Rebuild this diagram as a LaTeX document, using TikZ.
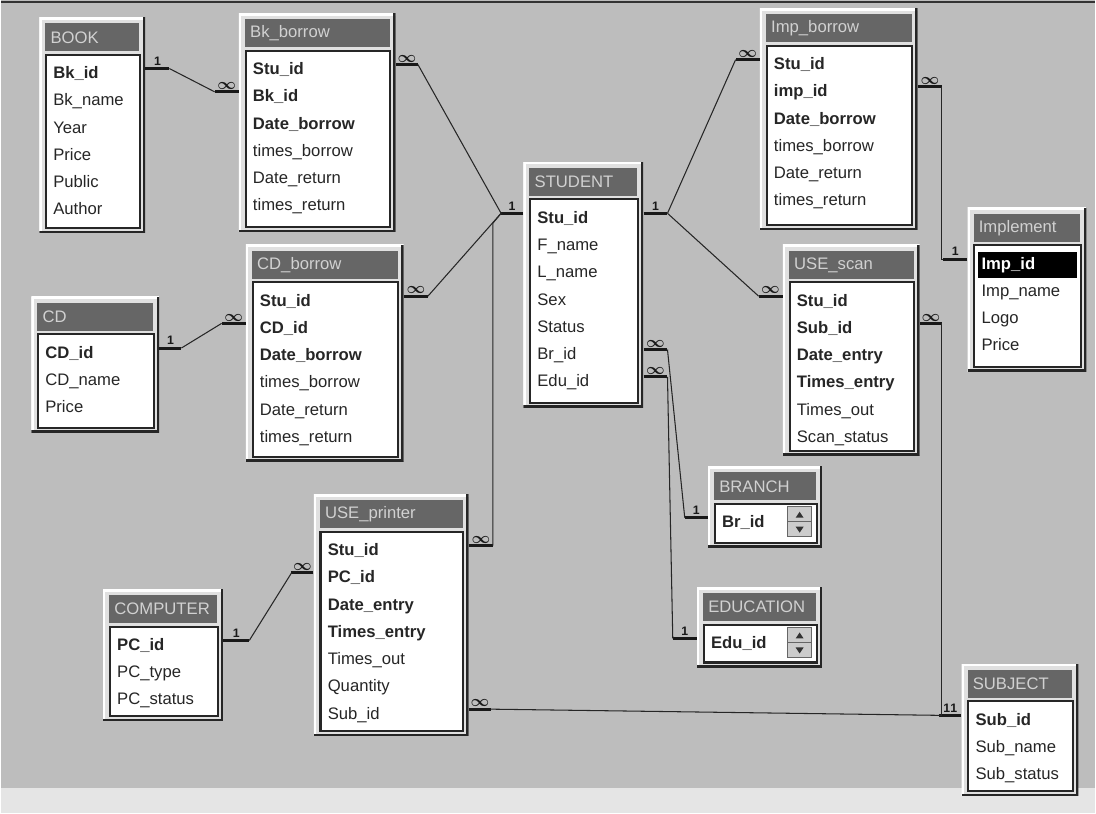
\documentclass[tikz,border=0pt]{standalone}
\usepackage{fontspec}
\setsansfont{Liberation Sans}
\usetikzlibrary{calc,positioning}
\newcommand\pxu{0.02cm}
\newcommand\fldfont{\sffamily\fontsize{9.5}{11}\selectfont}

\begin{document}
\begin{tikzpicture}[
    x=0.02cm, y=-0.02cm,
    tblframe/.style={rectangle,fill=black!12,inner sep=0pt,anchor=north west,
        path picture={
            \draw[white,line width=2.6pt] (path picture bounding box.south west) |- (path picture bounding box.north east);
            \draw[black!85,line width=2.6pt] (path picture bounding box.north east) |- (path picture bounding box.south west);
        }},
    tbltitle/.style={rectangle,fill=black!60,text=black!18,font=\fldfont,anchor=north west,inner xsep=3pt,inner ysep=0pt},
    tblbody/.style={rectangle,fill=white,draw=black!85,line width=1.2pt,anchor=north west,inner sep=0pt},
    fieldtxt/.style={anchor=base west,inner sep=0pt,font=\fldfont,text=black!85},
    keytxt/.style={fieldtxt,font=\fldfont\bfseries},
    hltxt/.style={keytxt,fill=black,text=white,xshift=-0.08cm,inner xsep=0.08cm,inner ysep=3pt,text width=1.84cm},
    relline/.style={black!85,line width=0.6pt},
    relstub/.style={black!90,line width=1.7pt},
    cardone/.style={above,inner sep=1pt,font=\sffamily\bfseries\scriptsize},
    cardmany/.style={above,inner sep=0.5pt,font=\bfseries\boldmath\small}
]
    % Background
    \fill[black!26] (0,0) rectangle (1096,815);
    \fill[black!10] (0,790) rectangle (1096,815);
    \draw[black!80,line width=1.2pt] (0,2) -- (1096,2);
    \useasboundingbox (0,0) rectangle (1096,815);

    % Tables: name/x/y/width/height/title/fields
    \foreach \tb/\x/\y/\w/\h/\ttl/\flds in {
        book/38/17/106/216/BOOK/{keytxt/Bk\_id,fieldtxt/Bk\_name,fieldtxt/Year,fieldtxt/Price,fieldtxt/Public,fieldtxt/Author},
        bkb/238/13/157/219/Bk\_borrow/{keytxt/Stu\_id,keytxt/Bk\_id,keytxt/Date\_borrow,fieldtxt/times\_borrow,fieldtxt/Date\_return,fieldtxt/times\_return},
        impb/760/8/158/222/Imp\_borrow/{keytxt/Stu\_id,keytxt/imp\_id,keytxt/Date\_borrow,fieldtxt/times\_borrow,fieldtxt/Date\_return,fieldtxt/times\_return},
        impl/968/208/119/164/Implement/{hltxt/Imp\_id,fieldtxt/Imp\_name,fieldtxt/Logo,fieldtxt/Price},
        stu/523/162/120/246/STUDENT/{keytxt/Stu\_id,fieldtxt/F\_name,fieldtxt/L\_name,fieldtxt/Sex,fieldtxt/Status,fieldtxt/Br\_id,fieldtxt/Edu\_id},
        uses/783/245/137/211/USE\_scan/{keytxt/Stu\_id,keytxt/Sub\_id,keytxt/Date\_entry,keytxt/Times\_entry,fieldtxt/Times\_out,fieldtxt/Scan\_status},
        cd/30/297/128/136/CD/{keytxt/CD\_id,fieldtxt/CD\_name,fieldtxt/Price},
        cdb/245/245/158/217/CD\_borrow/{keytxt/Stu\_id,keytxt/CD\_id,keytxt/Date\_borrow,fieldtxt/times\_borrow,fieldtxt/Date\_return,fieldtxt/times\_return},
        comp/102/590/120/132/COMPUTER/{keytxt/PC\_id,fieldtxt/PC\_type,fieldtxt/PC\_status},
        usep/313/495/155/242/USE\_printer/{keytxt/Stu\_id,keytxt/PC\_id,keytxt/Date\_entry,keytxt/Times\_entry,fieldtxt/Times\_out,fieldtxt/Quantity,fieldtxt/Sub\_id},
        br/708/467/114/81/BRANCH/{keytxt/Br\_id},
        edu/697/588/125/80/EDUCATION/{keytxt/Edu\_id},
        subj/962/665/117/132/SUBJECT/{keytxt/Sub\_id,fieldtxt/Sub\_name,fieldtxt/Sub\_status}%
    }{
        \node[tblframe,minimum width=\w*\pxu,minimum height=\h*\pxu] (\tb) at (\x,\y) {};
        \node[tbltitle,text width=\w*\pxu-12*\pxu-6pt,minimum height=28*\pxu] (\tb-t) at ($(\tb.north west)+(6,6)$) {\ttl};
        \node[tblbody,minimum width=\w*\pxu-12*\pxu,minimum height=\h*\pxu-42*\pxu] (\tb-b) at ($(\tb-t.south west)+(0,2)$) {};
        \foreach \sty/\fld [count=\i] in \flds
            \node[\sty] (\tb-\i) at ($(\tb-b.north west)+(8,25+27.3*\i-27.3)$) {\fld};
    }

    % Scroll buttons of the one-field lists
    \foreach \tb in {br,edu}{
        \draw[fill=black!20,draw=black!60] ($(\tb-b.north east)+(-30,4)$) rectangle ++(24,15);
        \draw[fill=black!20,draw=black!60] ($(\tb-b.north east)+(-30,19)$) rectangle ++(24,15);
        \fill[black!80] ($(\tb-b.north east)+(-22,15)$) -- ++(8,0) -- ++(-4,-6) -- cycle;
        \fill[black!80] ($(\tb-b.north east)+(-22,24)$) -- ++(8,0) -- ++(-4,6) -- cycle;
    }

    % BOOK -- Bk_borrow
    \draw[relstub] ($(book-1.base -| book.east)+(0,-10)$) -- node[cardone]{1} ++(24,0) coordinate (book-r1);
    \draw[relstub] ($(bkb-2.base -| bkb.west)+(0,-10)$) -- node[cardmany]{$\infty$} ++(-24,0) coordinate (bkb-l2);
    \draw[relline] (book-r1) -- (bkb-l2);

    % Bk_borrow, CD_borrow, USE_printer -- STUDENT
    \draw[relstub] ($(stu-1.base -| stu.west)+(0,-10)$) -- node[cardone]{1} ++(-22,0) coordinate (stu-l1);
    \draw[relstub] ($(bkb-1.base -| bkb.east)+(0,-10)$) -- node[cardmany]{$\infty$} ++(22,0) coordinate (bkb-r1);
    \draw[relline] (bkb-r1) -- (stu-l1);
    \draw[relstub] ($(cdb-1.base -| cdb.east)+(0,-10)$) -- node[cardmany]{$\infty$} ++(24,0) coordinate (cdb-r1);
    \draw[relline] (cdb-r1) -- (stu-l1);
    \draw[relstub] ($(usep-1.base -| usep.east)+(0,-10)$) -- node[cardmany]{$\infty$} ++(24,0) coordinate (usep-r1);
    \draw[relline] (usep-r1) -- ($(usep-r1 |- stu-l1)+(0,10)$) -- (stu-l1);

    % CD -- CD_borrow
    \draw[relstub] ($(cd-1.base -| cd.east)+(0,-10)$) -- node[cardone]{1} ++(22,0) coordinate (cd-r1);
    \draw[relstub] ($(cdb-2.base -| cdb.west)+(0,-10)$) -- node[cardmany]{$\infty$} ++(-24,0) coordinate (cdb-l2);
    \draw[relline] (cd-r1) -- (cdb-l2);

    % STUDENT -- Imp_borrow, USE_scan
    \draw[relstub] ($(stu-1.base -| stu.east)+(0,-10)$) -- node[cardone]{1} ++(24,0) coordinate (stu-r1);
    \draw[relstub] ($(impb-1.base -| impb.west)+(0,-10)$) -- node[cardmany]{$\infty$} ++(-24,0) coordinate (impb-l1);
    \draw[relline] (stu-r1) -- (impb-l1);
    \draw[relstub] ($(uses-1.base -| uses.west)+(0,-10)$) -- node[cardmany]{$\infty$} ++(-24,0) coordinate (uses-l1);
    \draw[relline] (stu-r1) -- (uses-l1);

    % COMPUTER -- USE_printer
    \draw[relstub] ($(comp-1.base -| comp.east)+(0,-10)$) -- node[cardone]{1} ++(26,0) coordinate (comp-r1);
    \draw[relstub] ($(usep-2.base -| usep.west)+(0,-10)$) -- node[cardmany]{$\infty$} ++(-22,0) coordinate (usep-l2);
    \draw[relline] (comp-r1) -- (usep-l2);

    % STUDENT -- BRANCH, EDUCATION
    \draw[relstub] ($(stu-6.base -| stu.east)+(0,-10)$) -- node[cardmany]{$\infty$} ++(24,0) coordinate (stu-r6);
    \draw[relstub] ($(br-1.base -| br.west)+(0,-10)$) -- node[cardone]{1} ++(-23,0) coordinate (br-l1);
    \draw[relline] (stu-r6) -- (br-l1);
    \draw[relstub] ($(stu-7.base -| stu.east)+(0,-10)$) -- node[cardmany]{$\infty$} ++(24,0) coordinate (stu-r7);
    \draw[relstub] ($(edu-1.base -| edu.west)+(0,-10)$) -- node[cardone]{1} ++(-24,0) coordinate (edu-l1);
    \draw[relline] (stu-r7) -- (edu-l1);

    % USE_scan, USE_printer -- SUBJECT
    \draw[relstub] ($(subj-1.base -| subj.west)+(0,-10)$) -- node[cardone,xshift=-2pt]{1} node[cardone,xshift=2pt]{1} ++(-22,0) coordinate (subj-l1);
    \draw[relstub] ($(uses-2.base -| uses.east)+(0,-10)$) -- node[cardmany]{$\infty$} ++(22,0) coordinate (uses-r2);
    \draw[relline] (uses-r2) -- (uses-r2 |- subj-l1) -- (subj-l1);
    \draw[relstub] ($(usep-7.base -| usep.east)+(0,-10)$) -- node[cardmany]{$\infty$} ++(22,0) coordinate (usep-r7);
    \draw[relline] (usep-r7) -- (subj-l1);

    % Imp_borrow -- Implement
    \draw[relstub] ($(impb-2.base -| impb.east)+(0,-10)$) -- node[cardmany]{$\infty$} ++(24,0) coordinate (impb-r2);
    \draw[relstub] ($(impl-1.base -| impl.west)+(0,-10)$) -- node[cardone]{1} ++(-24,0) coordinate (impl-l1);
    \draw[relline] (impb-r2) -- (impb-r2 |- impl-l1) -- (impl-l1);
\end{tikzpicture}
\end{document}
